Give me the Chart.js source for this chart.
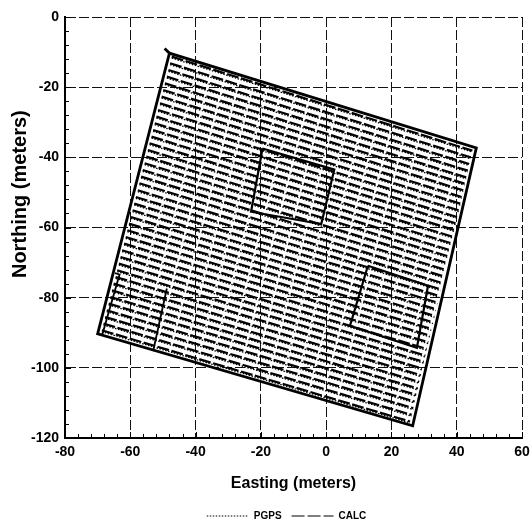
<!DOCTYPE html>
<html>
<head>
<meta charset="utf-8">
<script src="https://cdn.jsdelivr.net/npm/chart.js@4.4.1/dist/chart.umd.min.js"></script>
<style>
  body { margin: 0; background: #fff; }
  #wrap { width: 532px; height: 526px; }
</style>
</head>
<body>
<div id="wrap"><canvas id="fieldChart" width="532" height="526"></canvas></div>
<script>
// Pass ends (meters), one entry per row
const rowWestE = [-47.3, -47.8, -48.3, -48.8, -49.4, -49.9, -50.4, -50.9, -51.5, -52.0, -52.5, -53.0, -53.5, -54.1,
    -54.6, -55.1, -55.6, -56.2, -56.7, -57.2, -57.7, -58.3, -58.8, -59.3, -59.8, -60.4, -60.9, -61.4,
    -61.9, -62.5, -63.0, -63.5, -64.0, -64.5, -65.1, -65.6, -66.1, -66.6, -67.2, -67.7, -68.2, -68.7];
const rowEastE = [44.8, 44.3, 43.8, 43.4, 42.9, 42.4, 42.0, 41.5, 41.1, 40.6, 40.1, 39.7, 39.2, 38.7,
    38.3, 37.8, 37.3, 36.9, 36.4, 35.9, 35.5, 35.0, 34.6, 34.1, 33.6, 33.2, 32.7, 32.2,
    31.8, 31.3, 30.8, 30.4, 29.9, 29.4, 29.0, 28.5, 28.1, 27.6, 27.1, 26.7, 26.2, 25.7];
const calcWestN = [-11.3, -13.2, -15.1, -17.0, -18.9, -20.8, -22.7, -24.6, -26.5, -28.4, -30.3, -32.2, -34.1, -36.0,
    -37.9, -39.8, -41.7, -43.6, -45.5, -47.4, -49.4, -51.3, -53.2, -55.1, -57.0, -58.9, -60.8, -62.7,
    -64.6, -66.5, -68.4, -70.3, -72.2, -74.1, -76.0, -77.9, -79.8, -81.7, -83.6, -85.5, -87.4, -89.3];
const calcEastN = [-38.1, -40.0, -41.9, -43.8, -45.7, -47.5, -49.4, -51.3, -53.2, -55.1, -57.0, -58.8, -60.7, -62.6,
    -64.5, -66.4, -68.2, -70.1, -72.0, -73.9, -75.8, -77.6, -79.5, -81.4, -83.3, -85.2, -87.0, -88.9,
    -90.8, -92.7, -94.6, -96.5, -98.3, -100.2, -102.1, -104.0, -105.9, -107.7, -109.6, -111.5, -113.4, -115.3];
const pgpsWestN = [-11.7, -13.6, -15.5, -17.4, -19.3, -21.2, -23.1, -25.0, -26.9, -28.8, -30.7, -32.6, -34.5, -36.4,
    -38.3, -40.2, -42.1, -44.0, -45.9, -47.8, -49.8, -51.7, -53.6, -55.5, -57.4, -59.3, -61.2, -63.1,
    -65.0, -66.9, -68.8, -70.7, -72.6, -74.5, -76.4, -78.3, -80.2, -82.1, -84.0, -85.9, -87.8, -89.7];
const pgpsEastN = [-38.5, -40.4, -42.3, -44.2, -46.1, -47.9, -49.8, -51.7, -53.6, -55.5, -57.4, -59.2, -61.1, -63.0,
    -64.9, -66.8, -68.6, -70.5, -72.4, -74.3, -76.2, -78.0, -79.9, -81.8, -83.7, -85.6, -87.4, -89.3,
    -91.2, -93.1, -95.0, -96.9, -98.7, -100.6, -102.5, -104.4, -106.3, -108.1, -110.0, -111.9, -113.8, -115.7];

// field outline and obstacles
const boundaryE = [-49.5, -48.0, 46.0, 26.5, -70.0, -48.0];
const boundaryN = [-9.0, -10.3, -37.3, -116.5, -90.3, -10.3];
const stripE = [-64.7, -63.3, -68.6, -70.0];
const stripN = [-73.0, -73.4, -90.6, -90.3];
const stubE = [-48.8, -53.0];
const stubN = [-77.4, -95.2];
const square1E = [-19.5, 2.5, -1.5, -23.0, -19.5];
const square1N = [-37.5, -43.5, -59.0, -55.5, -37.5];
const square2E = [12.8, 31.2, 27.8, 7.3, 12.8];
const square2N = [-70.9, -76.6, -94.3, -88.0, -70.9];

const xTicks = [-80, -60, -40, -20, 0, 20, 40, 60];
const yTicks = [0, -20, -40, -60, -80, -100, -120];

const FONT = "'Liberation Sans', Arial, sans-serif";
const PGPS_DASH = [1.5, 1.5];
const CALC_DASH = [12, 2.5];

const pts = (es, ns) => es.map((e, i) => ({ x: e, y: ns[i] }));

const datasets = [];
rowWestE.forEach((e, i) => {
    datasets.push({
        label: 'PGPS',
        data: [{ x: e, y: pgpsWestN[i] }, { x: rowEastE[i], y: pgpsEastN[i] }],
        borderColor: '#000',
        borderWidth: 1.3,
        borderDash: PGPS_DASH,
    });
    datasets.push({
        label: 'CALC',
        data: [{ x: e, y: calcWestN[i] }, { x: rowEastE[i], y: calcEastN[i] }],
        borderColor: '#000',
        borderWidth: 2.2,
        borderDash: CALC_DASH,
    });
});
[[boundaryE, boundaryN, 2.8], [stripE, stripN, 1.8], [stubE, stubN, 1.8],
 [square1E, square1N, 2.2], [square2E, square2N, 2.2]].forEach(([es, ns, w]) => {
    datasets.push({
        label: 'outline',
        data: pts(es, ns),
        borderColor: '#000',
        borderWidth: w,
    });
});

// small inward ticks every 4 m, like the original axes
const minorTicks = {
    id: 'minorTicks',
    afterDraw(chart) {
        const { ctx, chartArea, scales } = chart;
        ctx.save();
        ctx.strokeStyle = '#000';
        ctx.lineWidth = 1;
        ctx.beginPath();
        for (let v = -80; v <= 60; v += 4) {
            const px = Math.round(scales.x.getPixelForValue(v)) + 0.5;
            const len = v % 20 === 0 ? 6 : 4;
            ctx.moveTo(px, chartArea.bottom);
            ctx.lineTo(px, chartArea.bottom - len);
        }
        for (let v = -120; v <= 0; v += 4) {
            const py = Math.round(scales.y.getPixelForValue(v)) + 0.5;
            const len = v % 20 === 0 ? 6 : 4;
            ctx.moveTo(chartArea.left, py);
            ctx.lineTo(chartArea.left + len, py);
        }
        ctx.stroke();
        ctx.restore();
    },
};

new Chart(document.getElementById('fieldChart'), {
    type: 'scatter',
    data: { datasets },
    options: {
        responsive: false,
        animation: false,
        showLine: true,
        elements: { point: { radius: 0, hoverRadius: 0 }, line: { tension: 0 } },
        layout: { padding: { top: 17, right: 10, bottom: -5, left: 0 } },
        scales: {
            x: {
                type: 'linear',
                min: -80,
                max: 60,
                afterFit: (s) => { s.height = 63; s.paddingLeft = 0; s.paddingRight = 0; },
                afterBuildTicks: (s) => { s.ticks = xTicks.map((v) => ({ value: v })); },
                ticks: { color: '#000', padding: 6, font: { family: FONT, size: 14, weight: 'bold' } },
                grid: { color: '#111', lineWidth: 1, drawTicks: false },
                border: { color: '#000', width: 2, dash: [10, 3] },
                title: {
                    display: true,
                    text: 'Easting (meters)',
                    color: '#000',
                    padding: { top: 0, bottom: 8 },
                    font: { family: FONT, size: 16, weight: 'bold' },
                },
            },
            y: {
                type: 'linear',
                min: -120,
                max: 0,
                afterFit: (s) => { s.width = 65; },
                afterBuildTicks: (s) => { s.ticks = yTicks.map((v) => ({ value: v })); },
                ticks: { color: '#000', padding: 6, font: { family: FONT, size: 14, weight: 'bold' } },
                grid: { color: '#111', lineWidth: 1, drawTicks: false },
                border: { color: '#000', width: 2, dash: [10, 3] },
                title: {
                    display: true,
                    // leading spaces lift the title above the axis middle, as in the scan
                    text: '            Northing (meters)',
                    color: '#000',
                    padding: { top: 8, bottom: 0 },
                    font: { family: FONT, size: 20, weight: 'bold' },
                },
            },
        },
        plugins: {
            tooltip: { enabled: false },
            legend: {
                position: 'bottom',
                fullSize: false,
                labels: {
                    color: '#000',
                    usePointStyle: true,
                    pointStyle: 'line',
                    pointStyleWidth: 42,
                    padding: 10,
                    font: { family: FONT, size: 10, weight: 'bold' },
                    generateLabels: () => [
                        { text: 'PGPS', strokeStyle: '#000', fillStyle: '#000', lineWidth: 1.2,
                          lineDash: PGPS_DASH, pointStyle: 'line', datasetIndex: 0 },
                        { text: 'CALC     ', strokeStyle: '#000', fillStyle: '#000', lineWidth: 1.2,
                          lineDash: [13, 3], pointStyle: 'line', datasetIndex: 1 },
                    ],
                },
            },
        },
    },
    plugins: [minorTicks],
});
</script>
</body>
</html>
